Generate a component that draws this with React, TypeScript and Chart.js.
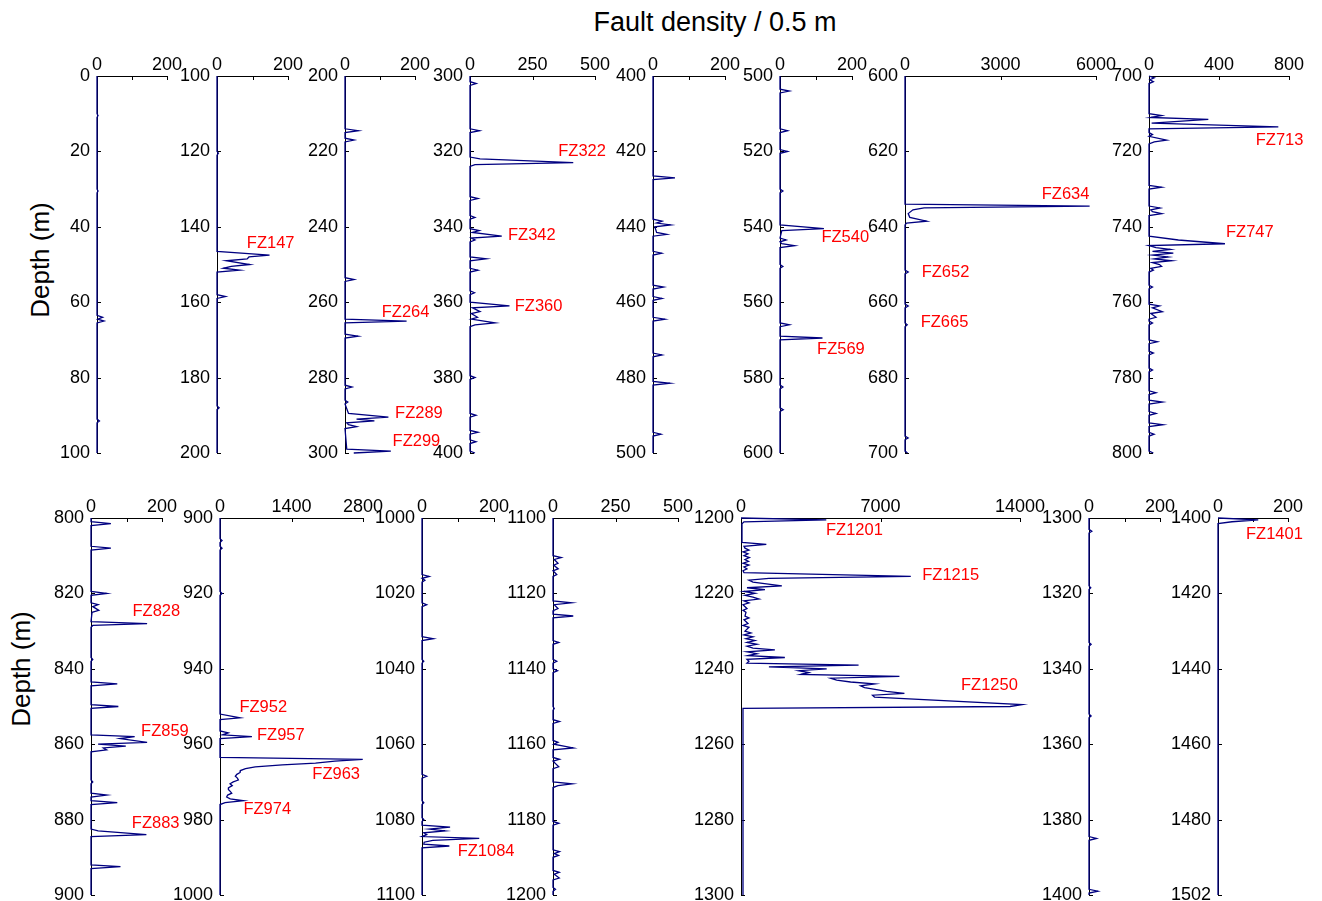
import React, { useEffect, useRef } from 'react';
import { Chart, registerables } from 'chart.js';

Chart.register(...registerables);

const FONT = '"Liberation Sans", Arial, Helvetica, sans-serif';

const TITLE = 'Fault density / 0.5 m';
const Y_TITLE = 'Depth (m)';

// Each log: [depth (m), fault density / 0.5 m]
const LOG_0_100: [number, number][] = [[0,0],[10,0],[10.5,3],[11,0],[30,0],[30.5,3],[31,0],[63.5,0],[64,16],[64.5,2],[65,20],[65.5,0],[91,0],[91.5,7],[92,0],[100,0]];
const LOG_100_200: [number, number][] = [[100,0],[120,0],[120.5,4],[121,0],[146.5,0],[147.5,148],[148,90],[148.5,85],[149,26],[150,92],[150.5,40],[151,18],[151.5,63],[152,0],[158,0],[158.5,24],[159,0],[187.5,0],[188,6],[188.5,0],[200,0]];
const LOG_200_300: [number, number][] = [[200,0],[214,0],[214.5,38],[215,0],[216.5,0],[217,26],[217.5,0],[253.5,0],[254,26],[254.5,0],[264.5,0],[265,176],[265.5,0],[268.5,0],[269,37],[269.5,0],[282,0],[282.5,20],[283,0],[286,0],[286.5,8],[287,0],[289.5,10],[290.5,124],[291,33],[291.5,84],[292,5],[292.5,10],[293,33],[293.5,0],[299,5],[299.5,131],[300,25]];
const LOG_300_400: [number, number][] = [[300,0],[301.5,0],[302,25],[302.5,0],[314,0],[314.5,38],[315,0],[321.5,0],[322,40],[323,413],[323.5,20],[324,0],[332,0],[332.5,32],[333,0],[337,0],[337.5,20],[338,0],[340.5,0],[341,37],[341.5,10],[342.5,127],[343,5],[343.5,20],[344,0],[348,0],[348.5,64],[349,0],[351,0],[351.5,32],[352,0],[357,0],[357.5,18],[358,0],[360,0],[361,158],[361.5,10],[362.5,40],[363,5],[364,30],[364.5,5],[365.5,100],[366,20],[366.5,0],[379.5,0],[380,20],[380.5,0],[389.5,0],[390,24],[390.5,0],[394,0],[394.5,32],[395,0],[396.5,0],[397,24],[397.5,0],[399.5,0],[400,20]];
const LOG_400_500: [number, number][] = [[400,0],[426.5,0],[427,61],[427.5,0],[438,0],[438.5,25],[439,10],[439.5,49],[440,5],[441.5,10],[442,38],[442.5,0],[446.5,0],[447,24],[447.5,0],[455.5,0],[456,29],[456.5,0],[458.5,0],[459,25],[459.5,0],[464,0],[464.5,33],[465,0],[473.5,0],[474,25],[474.5,0],[481,0],[481.5,47],[482,0],[494.5,0],[495,22],[495.5,0],[500,0]];
const LOG_500_600: [number, number][] = [[500,0],[503.5,0],[504,26],[504.5,0],[514,0],[514.5,21],[515,0],[519.5,0],[520,21],[520.5,0],[530,0],[530.5,8],[531,0],[539.5,0],[540.5,122],[541,5],[543,0],[543.5,17],[544,0],[544.5,5],[545,40],[545.5,0],[550,0],[550.5,8],[551,0],[565.5,0],[566,26],[566.5,0],[569,0],[569.5,118],[570,0],[582,0],[582.5,8],[583,0],[588,0],[588.5,9],[589,0],[600,0]];
const LOG_600_700: [number, number][] = [[600,0],[634,0],[634.5,5800],[635,600],[635.5,250],[636.5,100],[637.5,150],[638.5,680],[639,50],[639.5,0],[651.5,0],[652,100],[652.5,0],[660.5,0],[661,100],[661.5,0],[665.5,0],[666,70],[666.5,0],[695.5,0],[696,100],[696.5,0],[699.5,0],[700,80]];
const LOG_700_800: [number, number][] = [[700,0],[700.5,30],[701,5],[701.5,25],[702,0],[710,0],[710.5,72],[711,10],[711.5,339],[712.5,15],[713.5,739],[714,0],[715,0],[715.5,20],[716,0],[717,101],[717.5,30],[718,0],[729,0],[729.5,72],[730,0],[734.5,0],[735,63],[735.5,10],[736,20],[736.5,72],[737,0],[742.5,0],[743.5,168],[744.5,434],[745,0],[745.5,40],[746,122],[746.5,20],[747,139],[747.5,20],[748,110],[748.5,30],[749,130],[749.5,20],[750,60],[750.5,72],[751,10],[751.5,25],[752,0],[755.5,0],[756,20],[756.5,0],[760.5,0],[761,60],[761.5,20],[762.5,76],[763,10],[764,40],[764.5,0],[765,0],[765.5,20],[766,0],[770,0],[770.5,48],[771,0],[773,0],[773.5,25],[774,0],[777.5,0],[778,20],[778.5,0],[783.5,0],[784,40],[784.5,0],[786,0],[786.5,76],[787,0],[789,0],[789.5,40],[790,0],[792,0],[792.5,80],[793,0],[794.5,0],[795,29],[795.5,0],[799.5,0],[800,25]];
const LOG_800_900: [number, number][] = [[800,0],[801,0],[801.5,56],[802,0],[807.5,0],[808,56],[808.5,0],[819.5,0],[820,44],[820.5,0],[822.5,0],[823,20],[823.5,5],[824.5,22],[825,3],[827.5,0],[828,158],[828.5,5],[829,0],[837,0],[837.5,5],[838,0],[843.5,0],[844,74],[844.5,0],[849.5,0],[850,77],[850.5,0],[857.5,0],[858,123],[858.5,82],[859.5,158],[860,20],[860.5,98],[861,35],[861.5,44],[862,0],[869.5,0],[870,5],[870.5,0],[873,0],[873.5,44],[874,0],[875,0],[875.5,74],[876,0],[882.5,0],[883,20],[884,156],[884.5,0],[892,0],[892.5,83],[893,0],[900,0]];
const LOG_900_1000: [number, number][] = [[900,0],[905.5,0],[906,40],[906.5,0],[907.5,0],[908,40],[908.5,0],[919.5,0],[920,40],[920.5,0],[952,0],[953,394],[953.5,0],[956.5,0],[957,160],[957.5,50],[958,625],[958.5,0],[963.5,0],[964,2795],[964.5,2250],[965,1870],[965.5,1220],[966,690],[966.5,500],[967,400],[967.5,394],[968,330],[968.5,300],[969,340],[969.5,360],[970,260],[970.5,197],[971,240],[971.5,170],[972,164],[972.5,200],[973,230],[973.5,150],[974,130],[974.5,200],[975,460],[975.5,100],[976,0],[1000,0]];
const LOG_1000_1100: [number, number][] = [[1000,0],[1015,0],[1015.5,20],[1016,0],[1016.5,8],[1017,0],[1022.5,0],[1023,13],[1023.5,0],[1031.5,0],[1032,31],[1032.5,0],[1037.5,0],[1038,5],[1038.5,0],[1068,0],[1068.5,13],[1069,0],[1075,0],[1075.5,5],[1076,0],[1079.5,0],[1080,5],[1080.5,0],[1081.5,0],[1082,78],[1082.5,20],[1083,64],[1083.5,5],[1084,13],[1084.5,0],[1085,159],[1085.5,30],[1086,6],[1086.5,5],[1087,76],[1087.5,0],[1100,0]];
const LOG_1100_1200: [number, number][] = [[1100,0],[1110,0],[1110.5,33],[1111,5],[1112,20],[1112.5,3],[1113.5,21],[1114,0],[1115,15],[1115.5,0],[1122,0],[1122.5,74],[1123,5],[1124,20],[1124.5,3],[1125.5,0],[1126,81],[1126.5,0],[1132.5,0],[1133,23],[1133.5,0],[1137.5,0],[1138,15],[1138.5,0],[1140,0],[1140.5,18],[1141,0],[1150,0],[1150.5,5],[1151,0],[1153.5,0],[1154,26],[1154.5,0],[1159,0],[1159.5,20],[1160,3],[1161,81],[1161.5,0],[1163.5,0],[1164,26],[1164.5,0],[1166,23],[1166.5,0],[1170,0],[1170.5,77],[1171,20],[1171.5,0],[1180.5,0],[1181,23],[1181.5,0],[1188,0],[1188.5,26],[1189,5],[1189.5,22],[1190,0],[1193.5,0],[1194,25],[1194.5,5],[1195.5,25],[1196,0],[1198,0],[1198.5,10],[1199,0],[1200,0]];
const LOG_1200_1300: [number, number][] = [[1200,0],[1200.5,4280],[1201,150],[1201.5,50],[1206.5,50],[1207,1270],[1207.5,150],[1208,200],[1208.5,400],[1209,100],[1209.5,350],[1210,150],[1210.5,420],[1211,200],[1211.5,380],[1212,100],[1212.5,400],[1213,150],[1213.5,300],[1214,100],[1214.5,150],[1215.5,8520],[1216,1400],[1216.5,400],[1217,600],[1218,2050],[1218.5,300],[1219,1200],[1219.5,150],[1220,700],[1220.5,200],[1221,600],[1221.5,900],[1222,150],[1222.5,400],[1223,100],[1224,300],[1224.5,100],[1225,250],[1226,200],[1226.5,400],[1227,150],[1228,350],[1228.5,100],[1229,400],[1230,200],[1230.5,500],[1231,150],[1231.5,600],[1232,250],[1232.5,700],[1233,300],[1233.5,800],[1234,300],[1234.5,600],[1235,1700],[1235.5,300],[1236,800],[1236.5,350],[1237,2200],[1237.5,300],[1238,400],[1238.5,300],[1239,5900],[1239.5,1400],[1240,4300],[1240.5,2900],[1241,3400],[1241.5,3000],[1242,7950],[1242.5,4500],[1243,4800],[1243.5,5500],[1244,6700],[1244.5,6000],[1245,6200],[1245.5,6800],[1246,7300],[1246.5,8200],[1247,6600],[1247.5,6700],[1249.5,14100],[1250,13500],[1250.5,100],[1251,100],[1300,100]];
const LOG_1300_1400: [number, number][] = [[1300,0],[1303,0],[1303.5,8],[1304,0],[1318,0],[1318.5,5],[1319,0],[1333,0],[1333.5,6],[1334,0],[1352,0],[1352.5,6],[1353,0],[1384.5,0],[1385,21],[1385.5,0],[1398.5,0],[1399,25],[1399.5,0],[1400,0]];
const LOG_1400_1502: [number, number][] = [[1400,0],[1400.5,115],[1401,40],[1401.5,0],[1500,0]];

// Depth tick labels of the last panel (bottom label reads 1502)
const DEPTH_LABELS_1400: string[] = ['1400', '1420', '1440', '1460', '1480', '1502'];

// Fault-zone labels: [text, density, depth]
const FZ_100_200: [string, number, number][] = [['FZ147', 84, 144.5]];
const FZ_200_300: [string, number, number][] = [['FZ264', 105, 262.7], ['FZ289', 143, 289.5], ['FZ299', 136, 296.9]];
const FZ_300_400: [string, number, number][] = [['FZ322', 353, 320.1], ['FZ342', 152, 342.4], ['FZ360', 179, 361.2]];
const FZ_500_600: [string, number, number][] = [['FZ540', 115, 542.9], ['FZ569', 103, 572.6]];
const FZ_600_700: [string, number, number][] = [['FZ634', 4295, 631.5], ['FZ652', 525, 652], ['FZ665', 493, 665.3]];
const FZ_700_800: [string, number, number][] = [['FZ713', 610, 717], ['FZ747', 440, 741.6]];
const FZ_800_900: [string, number, number][] = [['FZ828', 117, 824.8], ['FZ859', 141, 856.6], ['FZ883', 115, 881.1]];
const FZ_900_1000: [string, number, number][] = [['FZ952', 381, 950.2], ['FZ957', 724, 957.7], ['FZ963', 1808, 968.1], ['FZ974', 459, 977.2]];
const FZ_1000_1100: [string, number, number][] = [['FZ1084', 99, 1088.5]];
const FZ_1200_1300: [string, number, number][] = [['FZ1201', 4265, 1203.4], ['FZ1215', 9097, 1215.2], ['FZ1250', 11038, 1244.5]];
const FZ_1400_1502: [string, number, number][] = [['FZ1401', 80, 1404.3]];

type Panel = {
  log: [number, number][];
  fz: [string, number, number][];
  yMin: number; yMax: number; xMax: number; xStep: number; hideMid: boolean;
  yLabels?: string[];
  left: number; right: number; top: number; bottom: number;
};

const TOP = 76, TOP_B = 453, BOT = 518, BOT_B = 895;

const PANELS: Panel[] = [
  { log: LOG_0_100, fz: [], yMin: 0, yMax: 100, xMax: 200, xStep: 100, hideMid: true, left: 97, right: 167, top: TOP, bottom: TOP_B },
  { log: LOG_100_200, fz: FZ_100_200, yMin: 100, yMax: 200, xMax: 200, xStep: 100, hideMid: true, left: 217, right: 288, top: TOP, bottom: TOP_B },
  { log: LOG_200_300, fz: FZ_200_300, yMin: 200, yMax: 300, xMax: 200, xStep: 100, hideMid: true, left: 345, right: 415, top: TOP, bottom: TOP_B },
  { log: LOG_300_400, fz: FZ_300_400, yMin: 300, yMax: 400, xMax: 500, xStep: 250, hideMid: false, left: 470, right: 595, top: TOP, bottom: TOP_B },
  { log: LOG_400_500, fz: [], yMin: 400, yMax: 500, xMax: 200, xStep: 100, hideMid: true, left: 653, right: 725, top: TOP, bottom: TOP_B },
  { log: LOG_500_600, fz: FZ_500_600, yMin: 500, yMax: 600, xMax: 200, xStep: 100, hideMid: true, left: 780, right: 852, top: TOP, bottom: TOP_B },
  { log: LOG_600_700, fz: FZ_600_700, yMin: 600, yMax: 700, xMax: 6000, xStep: 3000, hideMid: false, left: 905, right: 1096, top: TOP, bottom: TOP_B },
  { log: LOG_700_800, fz: FZ_700_800, yMin: 700, yMax: 800, xMax: 800, xStep: 400, hideMid: false, left: 1149, right: 1289, top: TOP, bottom: TOP_B },
  { log: LOG_800_900, fz: FZ_800_900, yMin: 800, yMax: 900, xMax: 200, xStep: 100, hideMid: true, left: 91, right: 162, top: BOT, bottom: BOT_B },
  { log: LOG_900_1000, fz: FZ_900_1000, yMin: 900, yMax: 1000, xMax: 2800, xStep: 1400, hideMid: false, left: 220, right: 363, top: BOT, bottom: BOT_B },
  { log: LOG_1000_1100, fz: FZ_1000_1100, yMin: 1000, yMax: 1100, xMax: 200, xStep: 100, hideMid: true, left: 422, right: 494, top: BOT, bottom: BOT_B },
  { log: LOG_1100_1200, fz: [], yMin: 1100, yMax: 1200, xMax: 500, xStep: 250, hideMid: false, left: 553, right: 678, top: BOT, bottom: BOT_B },
  { log: LOG_1200_1300, fz: FZ_1200_1300, yMin: 1200, yMax: 1300, xMax: 14000, xStep: 7000, hideMid: false, left: 741, right: 1020, top: BOT, bottom: BOT_B },
  { log: LOG_1300_1400, fz: [], yMin: 1300, yMax: 1400, xMax: 200, xStep: 100, hideMid: true, left: 1089, right: 1160, top: BOT, bottom: BOT_B },
  { log: LOG_1400_1502, fz: FZ_1400_1502, yMin: 1400, yMax: 1500, xMax: 200, xStep: 100, hideMid: true, yLabels: DEPTH_LABELS_1400, left: 1218, right: 1288, top: BOT, bottom: BOT_B },
];

const PAD_L = 60, PAD_T = 30, PAD_R = 45, PAD_B = 26;

function depthTicks(min: number, max: number): number[] {
  const out: number[] = [];
  for (let v = min; v <= max; v += 20) out.push(v);
  return out;
}

const tickMarks = {
  id: 'tickMarks',
  beforeDatasetsDraw(chart: any) {
    const { ctx, chartArea: a } = chart;
    const xs = chart.scales.x, ys = chart.scales.y;
    ctx.save();
    ctx.strokeStyle = '#000';
    ctx.lineWidth = 1;
    ctx.beginPath();
    xs.ticks.forEach((t: any) => {
      const px = Math.round(xs.getPixelForValue(t.value)) + 0.5;
      ctx.moveTo(px, a.top);
      ctx.lineTo(px, a.top + 4);
    });
    ys.ticks.forEach((t: any) => {
      const py = Math.round(ys.getPixelForValue(t.value)) + 0.5;
      ctx.moveTo(a.left, py);
      ctx.lineTo(a.left + 4, py);
    });
    ctx.stroke();
    ctx.restore();
  },
};

function fzLabels(fz: [string, number, number][]) {
  return {
    id: 'fzLabels',
    afterDraw(chart: any) {
      const { ctx } = chart;
      const xs = chart.scales.x, ys = chart.scales.y;
      ctx.save();
      ctx.fillStyle = '#ff0000';
      ctx.font = `16.5px ${FONT}`;
      ctx.textAlign = 'left';
      ctx.textBaseline = 'middle';
      fz.forEach(([txt, v, d]) => {
        ctx.fillText(txt, xs.getPixelForValue(v), ys.getPixelForValue(d));
      });
      ctx.restore();
    },
  };
}

function PanelChart({ p }: { p: Panel }) {
  const ref = useRef<HTMLCanvasElement>(null);
  const w = p.right - p.left + PAD_L + PAD_R;
  const h = p.bottom - p.top + PAD_T + PAD_B;
  useEffect(() => {
    const yt = depthTicks(p.yMin, p.yMax);
    const chart = new Chart(ref.current as HTMLCanvasElement, {
      type: 'scatter',
      data: {
        datasets: [{
          data: p.log.map(([d, v]) => ({ x: v, y: d })),
          showLine: true,
          borderColor: '#000080',
          borderWidth: 1.3,
          pointRadius: 0,
          tension: 0,
          clip: false,
        } as any],
      },
      options: {
        responsive: false,
        animation: false,
        devicePixelRatio: 1,
        events: [],
        layout: { padding: { left: 0, top: 0, right: PAD_R, bottom: PAD_B } },
        plugins: { legend: { display: false }, tooltip: { enabled: false } },
        scales: {
          x: {
            type: 'linear',
            position: 'top',
            min: 0,
            max: p.xMax,
            grid: { display: false, drawTicks: false },
            border: { display: true, color: '#000', width: 1 },
            ticks: {
              stepSize: p.xStep,
              padding: 0,
              color: '#000',
              maxRotation: 0,
              autoSkip: false,
              font: { size: 18, family: FONT },
              callback: (v: any, i: number) => (p.hideMid && i === 1 ? '' : String(v)),
            },
            afterFit: (s: any) => { s.height = PAD_T; },
          },
          y: {
            type: 'linear',
            position: 'left',
            reverse: true,
            min: p.yMin,
            max: p.yMax,
            grid: { display: false, drawTicks: false },
            border: { display: true, color: '#000', width: 1 },
            ticks: {
              padding: 7,
              color: '#000',
              autoSkip: false,
              font: { size: 18, family: FONT },
              callback: (v: any, i: number) => (p.yLabels ? p.yLabels[i] : String(v)),
            },
            afterBuildTicks: (s: any) => { s.ticks = yt.map((v) => ({ value: v })); },
            afterFit: (s: any) => { s.width = PAD_L; },
          },
        },
      } as any,
      plugins: [tickMarks, fzLabels(p.fz)],
    });
    return () => chart.destroy();
  }, []);
  return (
    <canvas
      ref={ref}
      width={w}
      height={h}
      style={{ position: 'absolute', left: p.left - PAD_L, top: p.top - PAD_T, display: 'block' }}
    />
  );
}

export default function App() {
  return (
    <div style={{ position: 'absolute', left: 0, top: 0, width: 1322, height: 901, background: '#fff', overflow: 'hidden', fontFamily: FONT }}>
      <div style={{ position: 'absolute', left: 415, top: 9, width: 600, textAlign: 'center', fontSize: 27, lineHeight: '27px', color: '#000', whiteSpace: 'nowrap' }}>{TITLE}</div>
      <div style={{ position: 'absolute', left: 40 - 100, top: 260 - 15, width: 200, height: 30, lineHeight: '30px', fontSize: 26, textAlign: 'center', transform: 'rotate(-90deg)', color: '#000', whiteSpace: 'nowrap' }}>{Y_TITLE}</div>
      <div style={{ position: 'absolute', left: 21 - 100, top: 669 - 15, width: 200, height: 30, lineHeight: '30px', fontSize: 26, textAlign: 'center', transform: 'rotate(-90deg)', color: '#000', whiteSpace: 'nowrap' }}>{Y_TITLE}</div>
      {PANELS.map((p, i) => <PanelChart key={i} p={p} />)}
    </div>
  );
}
